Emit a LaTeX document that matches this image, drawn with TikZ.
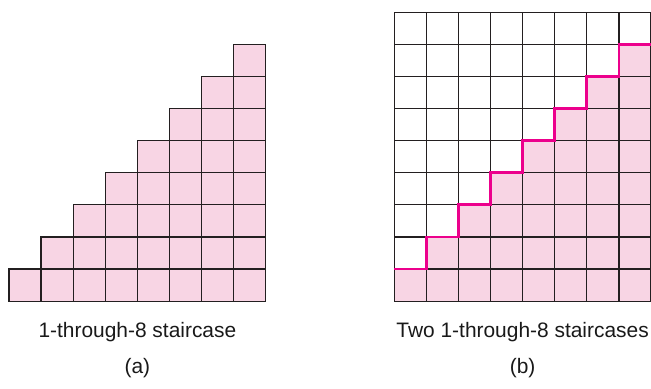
\documentclass[tikz,border=0pt]{standalone}
\usepackage{fontspec}
\setmainfont{Liberation Sans}
\usepackage{xcolor}
\usepackage{tikz}
\usetikzlibrary{positioning}

\definecolor{cellpink}{RGB}{248,213,228}
\definecolor{stairmag}{RGB}{236,0,140}
\definecolor{gridline}{RGB}{35,31,32}

\begin{document}
\begin{tikzpicture}[
    x=32.1bp, y=32.1bp,
    cellfill/.style={fill=cellpink},
    gridcell/.style={draw=gridline, line width=1.2bp, line cap=rect},
    stairline/.style={draw=stairmag, line width=2.8bp, line cap=butt, line join=miter},
    caption/.style={font=\fontsize{21}{25}\selectfont, text=black!90, inner sep=0pt},
]
\useasboundingbox (-0.28,-2.71) rectangle (20.0,9.38);

% (a) staircase
\foreach \i in {0,...,7}{
  \fill[cellfill] (\i,0) rectangle ++(1,\i+1);
}
\foreach \j [evaluate=\j as \xs using {max(\j-1,0)}] in {0,...,8}{
  \draw[gridcell] (\xs,\j) -- (8,\j);
}
\foreach \i [evaluate=\i as \yt using {min(\i+1,8)}] in {0,...,8}{
  \draw[gridcell] (\i,0) -- (\i,\yt);
}

% (b) pink part under the stairs
\foreach \i in {0,...,7}{
  \fill[cellfill] (12+\i,0) rectangle ++(1,\i+1);
}

% (b) grid
\foreach \j in {0,...,9}{
  \draw[gridcell] (12,\j) -- (20,\j);
}
\foreach \i in {0,...,8}{
  \draw[gridcell] (12+\i,0) -- (12+\i,9);
}

% (b) magenta stair line
\coordinate (stairstart) at (12,1);
\draw[stairline] (stairstart)
  \foreach \i in {1,...,7}{ -- ++(1,0) -- ++(0,1) } -- ++(1,0) coordinate (stairend);

% captions
\node[caption] (capa) at (4,-0.98) {1-through-8 staircase};
\node[caption] (taga) at (4,-2.1) {(a)};
\node[caption] (capb) at (16,-0.98) {Two 1-through-8 staircases};
\node[caption] (tagb) at (16,-2.1) {(b)};

\end{tikzpicture}
\end{document}
